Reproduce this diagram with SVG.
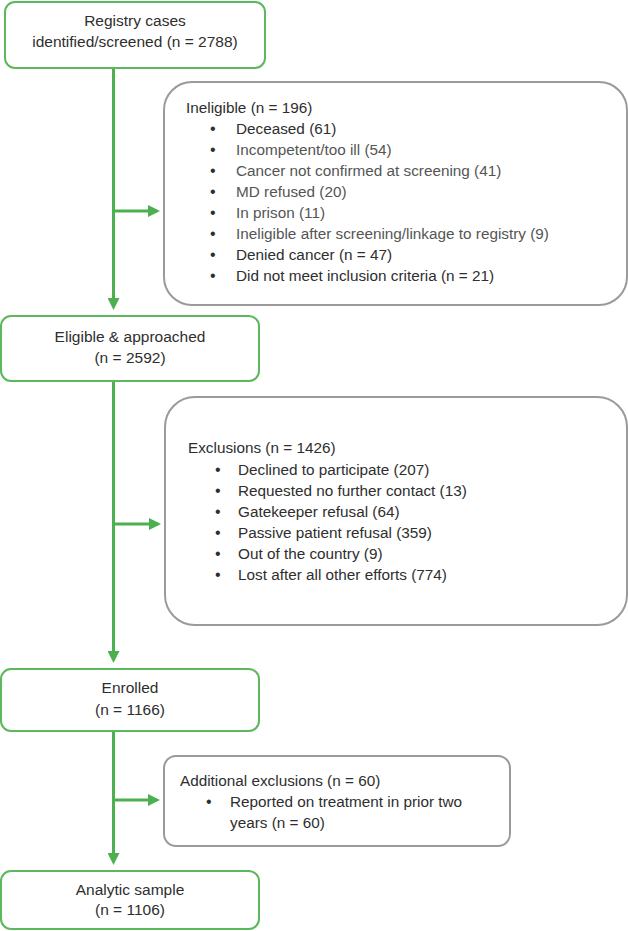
<svg xmlns="http://www.w3.org/2000/svg" width="628" height="931" viewBox="0 0 628 931">
<style>
.gbox{fill:#fff;stroke:#5cb85c;stroke-width:2}
.xbox{fill:#fff;stroke:#9a9a9a;stroke-width:2}
text{font-family:"Liberation Sans",Arial,sans-serif;font-size:15.3px;fill:#2e2e2e}
.c{text-anchor:middle;font-size:15.5px}
.lt{fill:#555}
.b{font-size:16px}
.conn{stroke:#4caf50;stroke-width:3;fill:none}
</style>
<defs>
<marker id="ah" markerWidth="4" markerHeight="4" refX="3" refY="2" orient="auto" markerUnits="strokeWidth">
<path d="M0,0 L4,2 L0,4 Z" fill="#4caf50"/>
</marker>
</defs>
<g id="connectors">
<line class="conn" x1="113.5" y1="69" x2="113.5" y2="307" marker-end="url(#ah)"/>
<line class="conn" x1="113.5" y1="211" x2="157" y2="211" marker-end="url(#ah)"/>
<line class="conn" x1="113.5" y1="381" x2="113.5" y2="660" marker-end="url(#ah)"/>
<line class="conn" x1="113.5" y1="524" x2="158" y2="524" marker-end="url(#ah)"/>
<line class="conn" x1="113.5" y1="732" x2="113.5" y2="862" marker-end="url(#ah)"/>
<line class="conn" x1="113.5" y1="800" x2="157" y2="800" marker-end="url(#ah)"/>
</g>
<g id="registry">
<rect class="gbox" x="5" y="2" width="260" height="66" rx="10"/>
<text class="c" x="135" y="26">Registry cases</text>
<text class="c" x="135" y="47">identified/screened (n = 2788)</text>
</g>
<g id="ineligible">
<rect class="xbox" x="164" y="82" width="463" height="223" rx="28"/>
<text x="186" y="113">Ineligible (n = 196)</text>
<text class="b" x="210" y="134">•</text><text x="236" y="134">Deceased (61)</text>
<text class="b" x="210" y="155">•</text><text class="lt" x="236" y="155">Incompetent/too ill (54)</text>
<text class="b" x="210" y="176">•</text><text class="lt" x="236" y="176">Cancer not confirmed at screening (41)</text>
<text class="b" x="210" y="197">•</text><text class="lt" x="236" y="197">MD refused (20)</text>
<text class="b" x="210" y="218">•</text><text class="lt" x="236" y="218">In prison (11)</text>
<text class="b" x="210" y="239">•</text><text class="lt" x="236" y="239">Ineligible after screening/linkage to registry (9)</text>
<text class="b" x="210" y="260">•</text><text x="236" y="260">Denied cancer (n = 47)</text>
<text class="b" x="210" y="281">•</text><text x="236" y="281">Did not meet inclusion criteria (n = 21)</text>
</g>
<g id="eligible">
<rect class="gbox" x="1" y="316" width="258" height="65" rx="10"/>
<text class="c" x="130" y="342">Eligible &amp; approached</text>
<text class="c" x="130" y="363">(n = 2592)</text>
</g>
<g id="exclusions">
<rect class="xbox" x="165" y="397" width="462" height="228" rx="30"/>
<text x="188" y="453">Exclusions (n = 1426)</text>
<text class="b" x="215" y="475">•</text><text x="238" y="475">Declined to participate (207)</text>
<text class="b" x="215" y="496">•</text><text x="238" y="496">Requested no further contact (13)</text>
<text class="b" x="215" y="517">•</text><text x="238" y="517">Gatekeeper refusal (64)</text>
<text class="b" x="215" y="538">•</text><text x="238" y="538">Passive patient refusal (359)</text>
<text class="b" x="215" y="559">•</text><text x="238" y="559">Out of the country (9)</text>
<text class="b" x="215" y="580">•</text><text x="238" y="580">Lost after all other efforts (774)</text>
</g>
<g id="enrolled">
<rect class="gbox" x="1" y="669" width="258" height="62" rx="10"/>
<text class="c" x="130" y="693">Enrolled</text>
<text class="c" x="130" y="715">(n = 1166)</text>
</g>
<g id="additional">
<rect class="xbox" x="164" y="756" width="346" height="90" rx="12"/>
<text x="180" y="786">Additional exclusions (n = 60)</text>
<text class="b" x="206" y="807">•</text><text x="230" y="807">Reported on treatment in prior two</text>
<text x="230" y="828">years (n = 60)</text>
</g>
<g id="analytic">
<rect class="gbox" x="1" y="871" width="258" height="58" rx="10"/>
<text class="c" x="130" y="895">Analytic sample</text>
<text class="c" x="130" y="915">(n = 1106)</text>
</g>
</svg>
